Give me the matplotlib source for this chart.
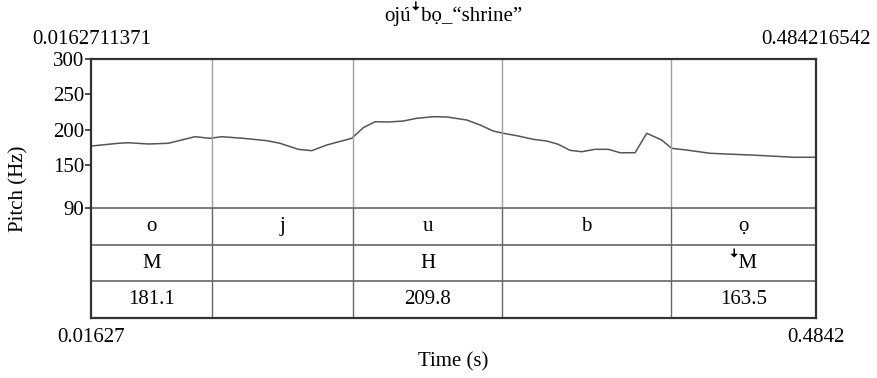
import matplotlib
matplotlib.use("Agg")
import matplotlib.pyplot as plt

# pitch contour
time_s = [0.0165, 0.0337, 0.0402, 0.0531, 0.0660, 0.0832, 0.0929, 0.1005,
          0.1144, 0.1295, 0.1381, 0.1499, 0.1586, 0.1683, 0.1844, 0.1919,
          0.1995, 0.2080, 0.2177, 0.2264, 0.2371, 0.2458, 0.2587, 0.2673,
          0.2758, 0.2823, 0.2910, 0.3017, 0.3103, 0.3178, 0.3254, 0.3329,
          0.3415, 0.3501, 0.3577, 0.3674, 0.3749, 0.3846, 0.3910, 0.4007,
          0.4158, 0.4459, 0.4696, 0.4836]
pitch_hz = [177.4, 181.2, 182.0, 180.2, 181.2, 190.5, 188.2, 190.5,
            188.2, 184.9, 181.2, 172.7, 170.8, 178.8, 188.2, 203.2,
            211.6, 211.2, 212.6, 216.4, 218.7, 218.3, 214.0, 207.0,
            198.5, 195.3, 191.9, 186.8, 184.4, 179.8, 171.3, 169.3,
            172.7, 172.7, 167.9, 167.9, 195.3, 185.8, 174.1, 171.7,
            167.1, 164.3, 161.5, 161.5]

t_start = 0.0162711371
t_end = 0.484216542
boundaries = [0.0940, 0.1855, 0.2817, 0.3906]

segments = ["o", "j", "u", "b", "\u1ecd"]
tones = ["M", "", "H", "", "\ua71cM"]
f0_means = ["181.1", "", "209.8", "", "163.5"]

pitch_ticks = [90, 150, 200, 250, 300]

fonts = ["Liberation Serif", "DejaVu Serif", "DejaVu Sans"]
plt.rcParams["font.family"] = fonts
plt.rcParams["font.size"] = 15

dark = "#333333"
mid = "#666666"
light = "#a0a0a0"

fig = plt.figure(figsize=(8.77, 3.78), dpi=100)
left, right = 91.3 / 877, 816 / 877
ax = fig.add_axes([left, 1 - 208 / 378, right - left, (208 - 59) / 378])
tx = fig.add_axes([left, 1 - 318 / 378, right - left, (318 - 208) / 378])
tx.patch.set_visible(False)

# pitch panel
ax.plot(time_s, pitch_hz, color="#555555", lw=1.1)
for b in boundaries:
    ax.axvline(b, color=light, lw=1.0)
ax.set_xlim(t_start, t_end)
ax.set_ylim(90, 300)
ax.set_yticks(pitch_ticks)
ax.set_xticks([])
ax.tick_params(axis="y", direction="out", length=4, width=1.2, color=dark, pad=1)
for s in ["left", "top", "right"]:
    ax.spines[s].set_color(dark)
    ax.spines[s].set_linewidth(1.6)
ax.spines["bottom"].set_color(mid)
ax.spines["bottom"].set_linewidth(1.2)

# tier panel
tx.set_xlim(t_start, t_end)
tx.set_ylim(0, 3)
tx.set_xticks([])
tx.set_yticks([])
for y in [1, 2]:
    tx.axhline(y, color=mid, lw=1.2)
for b in boundaries:
    tx.axvline(b, color=mid, lw=1.0)
for s in ["left", "bottom", "right"]:
    tx.spines[s].set_color(dark)
    tx.spines[s].set_linewidth(1.6)
tx.spines["top"].set_visible(False)

edges = [t_start] + boundaries + [t_end]
for i in range(len(segments)):
    mid_t = (edges[i] + edges[i + 1]) / 2
    for row, labels in zip([2.5, 1.5, 0.5], [segments, tones, f0_means]):
        if labels[i]:
            tx.text(mid_t, row, labels[i], ha="center", va="center")

# labels around the frame
fig.text(453 / 877, 1 - 14 / 378, "oj\u00fa\ua71cb\u1ecd_\u201cshrine\u201d",
         ha="center", va="center")
fig.text(left, 1 - 40 / 378, "%.10f" % t_start, ha="center", va="center")
fig.text(right, 1 - 40 / 378, "%.9f" % t_end, ha="center", va="center")
fig.text(left, 1 - 338 / 378, "%.5f" % t_start, ha="center", va="center")
fig.text(right, 1 - 338 / 378, "%.4f" % t_end, ha="center", va="center")
fig.text(453 / 877, 1 - 362 / 378, "Time (s)", ha="center", va="center")
fig.text(19 / 877, 1 - 189 / 378, "Pitch (Hz)", ha="center", va="center",
         rotation=90)

fig.savefig("out.png", dpi=100)
